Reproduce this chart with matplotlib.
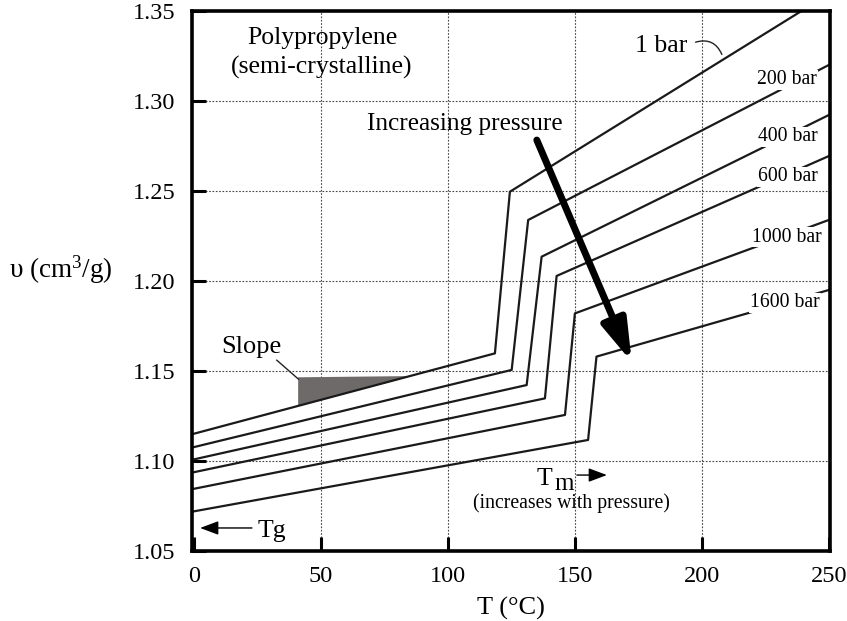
import matplotlib
matplotlib.use("Agg")
import matplotlib.pyplot as plt

plt.rcParams['font.family'] = ['Liberation Serif', 'DejaVu Serif']
plt.rcParams['mathtext.fontset'] = 'custom'
plt.rcParams['mathtext.rm'] = 'Liberation Serif'
plt.rcParams['mathtext.it'] = 'Liberation Serif:italic'

# ---- data ----
pressures = ["1 bar", "200 bar", "400 bar", "600 bar", "1000 bar", "1600 bar"]
# each curve: start at left edge, bottom of melt jump, top of melt jump, right edge
T_1 = [-1, 118.5, 124.4, 250]
v_1 = [1.1148, 1.1598, 1.2496, 1.3594]
T_200 = [-1, 125.1, 131.6, 250]
v_200 = [1.1074, 1.1506, 1.2339, 1.3200]
T_400 = [-1, 131.0, 136.9, 250]
v_400 = [1.1006, 1.1422, 1.2135, 1.2922]
T_600 = [-1, 138.2, 142.8, 250]
v_600 = [1.0935, 1.1348, 1.2028, 1.2694]
T_1000 = [-1, 146.1, 150.0, 250]
v_1000 = [1.0843, 1.1256, 1.1820, 1.2339]
T_1600 = [-1, 155.2, 158.5, 250]
v_1600 = [1.0718, 1.1117, 1.1580, 1.1950]

curves_T = [T_1, T_200, T_400, T_600, T_1000, T_1600]
curves_v = [v_1, v_200, v_400, v_600, v_1000, v_1600]

label_T = [183.9, 233.5, 233.9, 233.9, 233.5, 232.7]
label_v = [1.3306, 1.3117, 1.2800, 1.2578, 1.2244, 1.1878]

# slope triangle
slope_T = [41.0, 41.0, 86.0]
slope_v = [1.1305, 1.1465, 1.1472]

x_ticks = [0, 50, 100, 150, 200, 250]
y_ticks = [1.05, 1.10, 1.15, 1.20, 1.25, 1.30, 1.35]
y_ticklabels = ["1.05", "1.10", "1.15", "1.20", "1.25", "1.30", "1.35"]

fig = plt.figure(figsize=(8.47, 6.21), dpi=100)
ax = fig.add_axes([0.2267, 0.1127, 0.7533, 0.8696])

ax.set_xlim(-0.8, 250.5)
ax.set_ylim(1.05, 1.35)

# grid
for xv in x_ticks[1:-1]:
    ax.axvline(xv, color='#444444', lw=0.8, ls=(0, (1.5, 1.5)), zorder=0)
for yv in y_ticks[1:-1]:
    ax.axhline(yv, color='#444444', lw=0.8, ls=(0, (1.5, 1.5)), zorder=0)

# slope triangle
ax.fill(slope_T, slope_v, color='#6e6a6a', zorder=1, lw=0)

for Ts, vs in zip(curves_T, curves_v):
    ax.plot(Ts, vs, color='#1a1a1a', lw=1.6, zorder=2, solid_joinstyle='round')

# pressure labels
ax.text(label_T[0], label_v[0], pressures[0], fontsize=18.5, ha='center', va='center')
ax.annotate("", xy=(208.3, 1.3244), xytext=(196.5, 1.3322),
            arrowprops=dict(arrowstyle='-', lw=1.0, color='#222222',
                            connectionstyle='arc3,rad=-0.5'))
for lab, xt, yt in zip(pressures[1:], label_T[1:], label_v[1:]):
    ax.text(xt, yt, lab, fontsize=14.2, ha='center', va='center', zorder=3,
            bbox=dict(facecolor='white', edgecolor='none', pad=0.5))

# texts
ax.text(50.4, 1.335, "Polypropylene", fontsize=18.5, ha='center', va='center')
ax.text(50.4, 1.3189, "(semi-crystalline)", fontsize=18.5, ha='center', va='center')
ax.text(106.7, 1.2872, "Increasing pressure", fontsize=18.2, ha='center', va='center')

# big arrow
ax.annotate("", xy=(172.4, 1.155), xytext=(135.0, 1.2783),
            arrowprops=dict(arrowstyle='-|>,head_length=1.25,head_width=0.38',
                            lw=5, color='black', mutation_scale=20,
                            shrinkA=0, shrinkB=0), zorder=4)

# Slope
ax.text(22.4, 1.1633, "Slope", fontsize=19, ha='center', va='center')
ax.plot([32.6, 41.1], [1.156, 1.1455], color='#222222', lw=1.0)

# Tg
ax.annotate("", xy=(2.4, 1.0628), xytext=(22.8, 1.0628),
            arrowprops=dict(arrowstyle='-|>,head_length=0.8,head_width=0.3',
                            lw=1.0, color='black', mutation_scale=14,
                            shrinkA=0, shrinkB=0))
ax.text(25.2, 1.0578, "Tg", fontsize=18.5, ha='left', va='baseline')

# Tm
ax.text(135.0, 1.0867, "T", fontsize=18.5, ha='left', va='baseline')
ax.text(142.0, 1.0839, "m", fontsize=18, ha='left', va='baseline')
ax.annotate("", xy=(162.6, 1.0922), xytext=(150.8, 1.0922),
            arrowprops=dict(arrowstyle='-|>,head_length=0.8,head_width=0.3',
                            lw=1.0, color='black', mutation_scale=14,
                            shrinkA=0, shrinkB=0))
ax.text(148.8, 1.0767, "(increases with pressure)", fontsize=14.2, ha='center', va='center')

# ticks and frame
ax.set_xticks(x_ticks)
ax.set_xticklabels([str(x) for x in x_ticks])
ax.set_yticks(y_ticks)
ax.set_yticklabels(y_ticklabels)
ax.tick_params(direction='in', length=10, width=2.2, labelsize=17.5, colors='black')
ax.tick_params(axis='x', pad=11)
ax.tick_params(axis='y', pad=12)
for sp in ax.spines.values():
    sp.set_linewidth(2.6)

ax.set_xlabel("T (°C)", fontsize=19, labelpad=7)
ax.text(-0.205, 0.52, "υ (cm$^{3}$/g)", fontsize=19.5, ha='center', va='center',
        transform=ax.transAxes)

fig.savefig("out.png", dpi=100)
